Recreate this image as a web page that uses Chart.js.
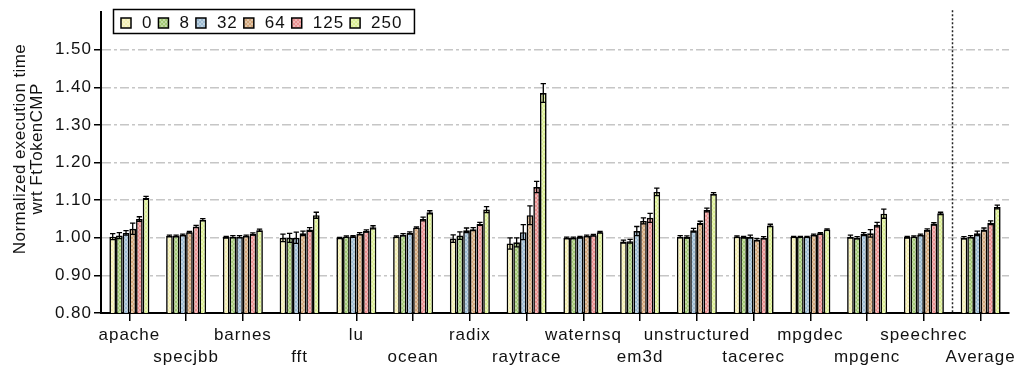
<!DOCTYPE html>
<html>
<head>
<meta charset="utf-8">
<script src="https://cdn.jsdelivr.net/npm/chart.js@4.4.1/dist/chart.umd.min.js"></script>
<style>
  html, body { margin: 0; padding: 0; background: #fff; }
  canvas { display: block; }
</style>
</head>
<body>
<canvas id="c" width="1025" height="374"></canvas>
<script>
// Benchmarks on the x axis
const benchmarks = ['apache', 'specjbb', 'barnes', 'fft', 'lu', 'ocean', 'radix', 'raytrace',
  'waternsq', 'em3d', 'unstructured', 'tacerec', 'mpgdec', 'mpgenc', 'speechrec', 'Average'];

// Series labels (legend)
const configs = ['0', '8', '32', '64', '125', '250'];

// Normalized execution time per configuration
const time0   = [1.003, 1.005, 1.002, 1.000, 1.000, 1.003, 0.998, 0.985, 1.000, 0.990, 1.003, 1.003, 1.003, 1.003, 1.002, 1.000];
const time8   = [1.006, 1.005, 1.003, 1.000, 1.003, 1.008, 1.006, 0.988, 1.000, 0.991, 1.002, 1.002, 1.003, 1.000, 1.003, 1.003];
const time32  = [1.013, 1.008, 1.003, 1.000, 1.004, 1.013, 1.020, 1.015, 1.002, 1.018, 1.020, 1.003, 1.003, 1.010, 1.008, 1.012];
const time64  = [1.024, 1.015, 1.005, 1.012, 1.011, 1.027, 1.023, 1.060, 1.005, 1.045, 1.040, 0.995, 1.008, 1.012, 1.021, 1.022];
const time125 = [1.050, 1.030, 1.010, 1.022, 1.018, 1.050, 1.037, 1.135, 1.007, 1.053, 1.074, 1.000, 1.012, 1.035, 1.037, 1.040];
const time250 = [1.106, 1.048, 1.020, 1.060, 1.028, 1.068, 1.075, 1.385, 1.015, 1.122, 1.117, 1.033, 1.022, 1.064, 1.065, 1.082];

// Error-bar half widths
const err0   = [0.008, 0.002, 0.002, 0.010, 0.001, 0.002, 0.010, 0.015, 0.002, 0.004, 0.003, 0.002, 0.001, 0.004, 0.002, 0.003];
const err8   = [0.008, 0.002, 0.003, 0.012, 0.002, 0.003, 0.010, 0.012, 0.002, 0.005, 0.003, 0.002, 0.001, 0.003, 0.002, 0.003];
const err32  = [0.006, 0.002, 0.003, 0.015, 0.002, 0.003, 0.006, 0.020, 0.002, 0.012, 0.005, 0.004, 0.001, 0.004, 0.002, 0.006];
const err64  = [0.015, 0.002, 0.002, 0.006, 0.003, 0.002, 0.004, 0.025, 0.002, 0.008, 0.004, 0.003, 0.002, 0.010, 0.003, 0.004];
const err125 = [0.006, 0.003, 0.003, 0.005, 0.003, 0.005, 0.004, 0.015, 0.002, 0.012, 0.005, 0.003, 0.002, 0.006, 0.003, 0.005];
const err250 = [0.004, 0.003, 0.003, 0.008, 0.004, 0.004, 0.008, 0.025, 0.002, 0.010, 0.003, 0.003, 0.002, 0.012, 0.003, 0.005];

const series = [time0, time8, time32, time64, time125, time250];
const errors = [err0, err8, err32, err64, err125, err250];
const baseColors = ['#f3efb2', '#a2c874', '#9cbad2', '#d2a67a', '#ea9090', '#dbee92'];

const FONT = '"Liberation Sans", Arial, Helvetica, sans-serif';

// Small cross-hatched fill for each bar colour
function hatch(color) {
  const p = document.createElement('canvas');
  p.width = 4; p.height = 4;
  const g = p.getContext('2d');
  g.fillStyle = color;
  g.fillRect(0, 0, 4, 4);
  g.fillStyle = 'rgba(255,255,255,0.35)';
  for (let i = 0; i < 4; i++) { g.fillRect(i, i, 1, 1); g.fillRect(3 - i, i, 1, 1); }
  return g.createPattern(p, 'repeat');
}
const fills = baseColors.map(hatch);

// Alternate category labels between two rows
const xLabels = benchmarks.map((b, i) => (i % 2 === 0 ? [b] : ['', b]));

const decor = {
  id: 'decor',
  beforeUpdate(chart) { chart.ctx.letterSpacing = '1px'; },
  beforeDraw(chart) { chart.ctx.letterSpacing = '1px'; },
  afterDatasetsDraw(chart) {
    const ctx = chart.ctx;
    const y = chart.scales.y;
    ctx.save();
    ctx.strokeStyle = '#000';
    ctx.lineWidth = 1.3;
    chart.data.datasets.forEach((ds, d) => {
      const meta = chart.getDatasetMeta(d);
      meta.data.forEach((el, j) => {
        const v = series[d][j], e = errors[d][j];
        const yt = y.getPixelForValue(v + e), yb = y.getPixelForValue(v - e);
        const half = Math.max(2, el.width * 0.4);
        ctx.beginPath();
        ctx.moveTo(el.x, yt); ctx.lineTo(el.x, yb);
        ctx.moveTo(el.x - half, yt); ctx.lineTo(el.x + half, yt);
        ctx.moveTo(el.x - half, yb); ctx.lineTo(el.x + half, yb);
        ctx.stroke();
      });
    });
    ctx.restore();
  },
  afterDraw(chart) {
    const ctx = chart.ctx;
    const x = chart.scales.x;
    const area = chart.chartArea;
    ctx.save();

    // dotted separator before the Average group
    const n = benchmarks.length;
    const sx = Math.round((x.getPixelForValue(n - 2) + x.getPixelForValue(n - 1)) / 2) + 0.5;
    ctx.strokeStyle = '#222';
    ctx.lineWidth = 1.5;
    ctx.setLineDash([2, 2]);
    ctx.beginPath();
    ctx.moveTo(sx, area.top - 2);
    ctx.lineTo(sx, area.bottom);
    ctx.stroke();
    ctx.setLineDash([]);

    // legend box
    ctx.font = '17px ' + FONT;
    ctx.letterSpacing = '1px';
    ctx.textBaseline = 'middle';
    ctx.textAlign = 'left';
    ctx.fillStyle = '#111';
    let lx = 121;
    chart.data.datasets.forEach((ds, d) => {
      ctx.fillStyle = fills[d];
      ctx.fillRect(lx, 18, 10, 10);
      ctx.strokeStyle = '#000';
      ctx.lineWidth = 1.5;
      ctx.strokeRect(lx, 18, 10, 10);
      ctx.fillStyle = '#111';
      const w = ctx.measureText(ds.label).width;
      ctx.fillText(ds.label, lx + 21, 23.5);
      lx += 21 + w + 6;
    });
    ctx.strokeStyle = '#000';
    ctx.lineWidth = 1.5;
    ctx.strokeRect(113.5, 9.5, lx - 6 + 12 - 113.5, 24);

    // y axis title (two lines)
    ctx.letterSpacing = '0.4px';
    ctx.fillStyle = '#111';
    ctx.textAlign = 'center';
    ctx.font = '17px ' + FONT;
    [['Normalized execution time', 20], ['wrt FtTokenCMP', 37]].forEach(([t, cx]) => {
      ctx.save();
      ctx.translate(cx, 149);
      ctx.rotate(-Math.PI / 2);
      ctx.fillText(t, 0, 0);
      ctx.restore();
    });
    ctx.restore();
  }
};

new Chart(document.getElementById('c'), {
  type: 'bar',
  data: {
    labels: xLabels,
    datasets: configs.map((c, d) => ({
      label: c,
      data: series[d],
      backgroundColor: fills[d],
      borderColor: '#000',
      borderWidth: 1.6,
      categoryPercentage: 0.705,
      barPercentage: 1.0
    }))
  },
  options: {
    responsive: false,
    animation: false,
    layout: { padding: { top: 12, right: 16, left: 0, bottom: 0 } },
    plugins: { legend: { display: false }, tooltip: { enabled: false } },
    scales: {
      x: {
        grid: { display: true, drawOnChartArea: false, offset: false, tickLength: 8, color: '#000', lineWidth: 1.5 },
        border: { display: true, color: '#000', width: 2 },
        ticks: {
          autoSkip: false, maxRotation: 0, minRotation: 0, padding: 3,
          color: '#111',
          font: { family: FONT, size: 17, lineHeight: 1.3 }
        },
        afterFit(scale) { scale.height = 61; }
      },
      y: {
        min: 0.8, max: 1.6,
        grid: {
          color: (c) => (c.tick && c.tick.value > 1.55) ? 'rgba(0,0,0,0)' : '#c6c6c6',
          tickColor: (c) => (c.tick && c.tick.value > 1.55) ? 'rgba(0,0,0,0)' : '#000',
          lineWidth: 1.5,
          tickLength: 7,
          tickBorderDash: []
        },
        border: { display: true, color: '#000', width: 2, dash: [9, 3, 3, 3] },
        ticks: {
          stepSize: 0.1, padding: 2, color: '#111',
          font: { family: FONT, size: 17 },
          callback: (v) => (v > 1.55 ? '' : Number(v).toFixed(2))
        },
        afterFit(scale) { scale.width = 101; }
      }
    }
  },
  plugins: [decor]
});
</script>
</body>
</html>
